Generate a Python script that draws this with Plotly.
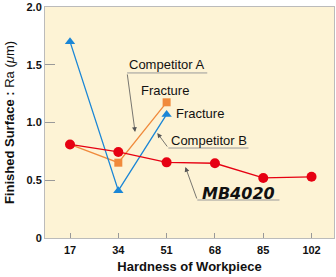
import plotly.graph_objects as go

hardness = [17, 34, 51, 68, 85, 102]
mb4020 = [0.81, 0.745, 0.655, 0.647, 0.52, 0.53]
compA_x = [17, 34, 51]
compA = [0.81, 0.652, 1.175]
compB_x = [17, 34, 51]
compB = [1.70, 0.41, 1.07]
y_ticks = [0, 0.5, 1.0, 1.5, 2.0]
y_ticktext = ["0", "0.5", "1.0", "1.5", "2.0"]

RED = "#E60012"
ORANGE = "#F08A3C"
BLUE = "#1A86D6"
FONT = "Liberation Sans, Arial, sans-serif"

fig = go.Figure()
fig.add_trace(go.Scatter(x=compA_x, y=compA, mode="lines",
                         line=dict(color=ORANGE, width=1.3)))
fig.add_trace(go.Scatter(x=compA_x[1:], y=compA[1:], mode="markers",
                         marker=dict(symbol="square", size=8, color=ORANGE)))
fig.add_trace(go.Scatter(x=compB_x, y=compB, mode="lines+markers",
                         line=dict(color=BLUE, width=1.3),
                         marker=dict(symbol="triangle-up", size=9, color=BLUE)))
fig.add_trace(go.Scatter(x=hardness, y=mb4020, mode="lines+markers",
                         line=dict(color=RED, width=1.3),
                         marker=dict(symbol="circle", size=10, color=RED)))

LC = "#555555"
def label(text, tx, ty, ux0, ux1, uy, tipx, tipy, size=13, font=FONT, anchor="center"):
    fig.add_annotation(x=tx, y=ty, text=text, showarrow=False, xanchor=anchor,
                       font=dict(family=font, size=size, color="#111111"))
    fig.add_shape(type="line", x0=ux0, x1=ux1, y0=uy, y1=uy,
                  line=dict(color="#999999", width=1))
    fig.add_annotation(x=tipx, y=tipy, ax=ux0, ay=uy, axref="x", ayref="y",
                       text="", showarrow=True, arrowhead=2, arrowsize=1.2,
                       arrowwidth=0.8, arrowcolor=LC)

label("Competitor A", 51.0, 1.50, 37.1, 65.3, 1.429, 39.9, 0.918)
label("Competitor B", 65.8, 0.848, 51.6, 79.8, 0.779, 47.7, 0.909)
label("<b><i>MB4020</i></b>", 76.3, 0.385, 61.8, 90.7, 0.329, 57.6, 0.615,
      size=16, font="DejaVu Sans, sans-serif")
fig.add_annotation(x=50.5, y=1.273, text="Fracture", showarrow=False,
                   font=dict(family=FONT, size=13, color="#111111"))
fig.add_annotation(x=53.7, y=1.082, text="Fracture", showarrow=False, xanchor="left",
                   font=dict(family=FONT, size=13, color="#111111"))

fig.update_layout(
    width=336, height=277,
    margin=dict(l=45, r=2, t=7, b=39),
    paper_bgcolor="white", plot_bgcolor="#FDF3D5",
    showlegend=False,
    font=dict(family=FONT, color="#111111"),
)
fig.update_xaxes(range=[8.2, 109.9], tickvals=hardness, ticks="inside", ticklen=5,
                 tickcolor="#999999", showgrid=False, zeroline=False,
                 showline=True, linecolor="#BBBBBB", mirror=True, ticklabelstandoff=2,
                 tickfont=dict(size=11, family=FONT, color="#111111", weight="bold"),
                 title=dict(text="<b>Hardness of Workpiece</b>", font=dict(size=13), standoff=6))
fig.update_yaxes(range=[0, 2.0], tickvals=y_ticks, ticktext=y_ticktext, ticks="inside",
                 ticklen=10, tickcolor="#999999", showgrid=False, zeroline=False,
                 showline=True, linecolor="#BBBBBB", mirror=True,
                 tickfont=dict(size=11, family=FONT, color="#111111", weight="bold"),
                 title=dict(text="<b>Finished Surface :</b> Ra (<i>μ</i>m)", font=dict(size=13), standoff=8))
fig.write_html("out.html")
